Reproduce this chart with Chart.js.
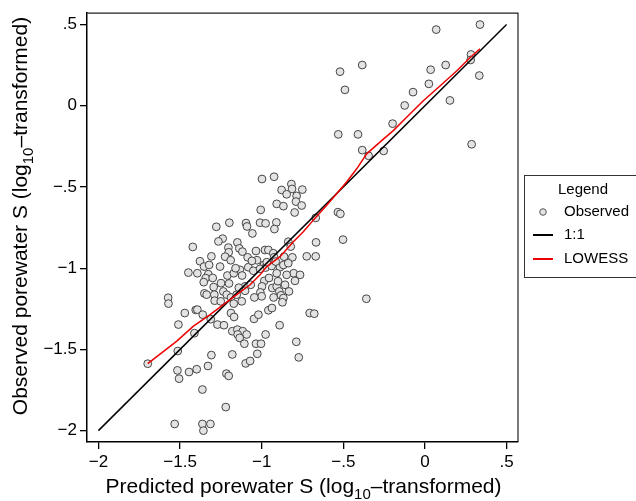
<!DOCTYPE html>
<html>
<head>
<meta charset="utf-8">
<script src="https://cdn.jsdelivr.net/npm/chart.js@4.4.0/dist/chart.umd.min.js"></script>
<style>
  html,body{margin:0;padding:0;background:#fff;}
  #wrap{width:636px;height:501px;position:relative;}
</style>
</head>
<body>
<div id="wrap"><canvas id="chart" width="636" height="501"></canvas></div>
<script>
/* ======== DATA ======== */
const tickVals   = [-2, -1.5, -1, -0.5, 0, 0.5];
const tickLabels = ['\u22122', '\u22121.5', '\u22121', '\u2212.5', '0', '.5'];

// observed vs predicted porewater S (log10)
const obsX = [
  0.337, 0.069, 0.282, 0.280, 0.127, 0.035, 0.333, 0.024, -0.073, 0.153, -0.124, -0.198,
  -0.384, -0.520, -0.490, -0.531, -0.410, -0.384, -0.345, -0.253, 0.286,
  -0.533, -0.518, -0.669, -0.502, -0.667, -0.724, -0.669, -0.359, -0.706, -0.678, -0.788, -0.773,
  -0.998, -0.924, -0.818, -0.878, -0.814, -0.751, -0.847, -0.786, -0.790, -0.755, -0.908, -0.867,
  -0.798, -1.006, -1.010, -0.976, -0.910, -0.922, -1.096, -1.090, -1.057, -1.198, -1.278, -1.239, -1.265,
  -1.149, -1.204, -1.137, -1.118, -1.202, -1.086, -1.035, -0.980, -0.959, -0.929, -0.837, -0.822,
  -0.863, -0.812, -1.422, -1.308, -1.378, -1.353, -1.224, -1.190, -1.029, -0.924,
  -1.449, -1.394, -1.327, -1.343, -1.355, -1.210, -1.171, -1.133, -1.120, -1.082, -1.051, -0.986,
  -0.976, -0.939, -0.888, -0.908, -0.867, -0.837, -0.804, -0.765, -0.796, -1.322, -1.010, -0.969,
  -0.914, -0.847,
  -1.351, -1.337, -1.294, -1.290, -1.249, -1.235, -1.200, -1.214, -1.188, -1.153, -1.102, -1.102,
  -1.067, -0.984, -0.998, -1.008, -1.000, -0.935, -0.908, -0.892, -0.857, -0.833, -0.882, -0.867,
  -0.927, -0.873, -1.573, -1.571, -1.288, -1.251, -1.171, -1.122,
  -1.471, -1.404, -1.394, -1.361, -1.312, -1.188, -1.169, -1.047, -1.020, -0.959, -0.937, -1.510,
  -1.412, -1.271, -1.231, -1.180, -1.149, -1.116, -1.147, -1.092, -1.135, -0.976, -0.890,
  -1.106, -1.035, -1.004, -1.027, -1.514, -1.308, -1.180, -1.098, -1.071, -1.698, -1.329,
  -1.516, -1.506, -1.445, -1.398, -1.216, -1.202, -1.363, -1.220, -1.533, -1.363, -1.314, -1.357,
  -1.160, -1.060, -0.955, -1.255, -1.140, -0.900, -1.300, -1.045
];
const obsY = [
  0.500, 0.469, 0.316, 0.282, 0.251, 0.222, 0.186, 0.135, 0.084, 0.033, 0.002, -0.110,
  0.251, 0.210, 0.098, -0.176, -0.176, -0.273, -0.308, -0.278, -0.237,
  -0.655, -0.665, -0.690, -0.824, -0.841, -0.927, -0.927, -1.188, -1.276, -1.280, -1.453, -1.549,
  -0.451, -0.437, -0.482, -0.518, -0.512, -0.516, -0.545, -0.555, -0.590, -0.614, -0.604, -0.618,
  -0.657, -0.641, -0.720, -0.724, -0.718, -0.759, -0.722, -0.743, -0.786, -0.720, -0.745, -0.818, -0.835,
  -0.841, -0.873, -0.878, -0.898, -0.902, -0.933, -0.894, -0.888, -0.888, -0.908, -0.837, -0.867,
  -0.929, -0.933, -0.869, -0.927, -0.957, -0.990, -0.929, -0.951, -0.951, -0.933,
  -1.027, -1.031, -1.037, -1.061, -1.086, -1.045, -1.031, -1.010, -1.045, -0.994, -1.016, -0.980,
  -0.996, -0.986, -0.994, -1.031, -0.980, -0.969, -1.031, -1.041, -1.078, -0.980, -1.004, -0.963,
  -0.959, -1.041,
  -1.155, -1.163, -1.116, -1.163, -1.092, -1.143, -1.094, -1.163, -1.180, -1.163, -1.112, -1.139,
  -1.102, -1.078, -1.112, -1.149, -1.173, -1.122, -1.112, -1.143, -1.102, -1.143, -1.167, -1.184,
  -1.180, -1.210, -1.182, -1.218, -1.200, -1.204, -1.218, -1.204,
  -1.276, -1.257, -1.255, -1.286, -1.314, -1.276, -1.300, -1.312, -1.286, -1.259, -1.245, -1.347,
  -1.400, -1.347, -1.351, -1.388, -1.378, -1.388, -1.408, -1.408, -1.429, -1.408, -1.351,
  -1.465, -1.465, -1.465, -1.527, -1.510, -1.535, -1.531, -1.586, -1.571, -1.588, -1.602,
  -1.629, -1.680, -1.639, -1.622, -1.649, -1.663, -1.747, -1.855, -1.959, -1.959, -1.959, -2.000,
  -1.000, -0.955, -1.060, -0.990, -1.120, -1.080, -1.060, -1.180
];

// LOWESS smooth
const lowessX = [-1.698, -1.520, -1.418, -1.316, -1.235, -1.153, -1.071, -1.010, -0.969, -0.888,
  -0.806, -0.745, -0.684, -0.602, -0.541, -0.480, -0.418, -0.357, -0.276, -0.194, -0.112,
  -0.010, 0.092, 0.194, 0.276, 0.337];
const lowessY = [-1.588, -1.449, -1.357, -1.286, -1.224, -1.163, -1.102, -1.041, -0.990, -0.929,
  -0.837, -0.776, -0.704, -0.612, -0.541, -0.469, -0.388, -0.296, -0.224, -0.153, -0.071,
  0.031, 0.122, 0.214, 0.296, 0.351];

// 1:1 reference line
const lineX = [-2, 0.5];
const lineY = [-2, 0.5];

const FONT = '"Liberation Sans", Arial, Helvetica, sans-serif';
const RED = '#ee0000';
const toXY = (xs, ys) => xs.map((x, i) => ({ x, y: ys[i] }));

/* ======== AXIS TITLES with subscript ======== */
function drawParts(ctx, parts, size){
  let w = 0;
  parts.forEach(p => {
    ctx.font = (p.sub ? Math.round(size * 0.72) : size) + 'px ' + FONT;
    w += ctx.measureText(p.t).width;
  });
  let x = -w / 2;
  parts.forEach(p => {
    ctx.font = (p.sub ? Math.round(size * 0.72) : size) + 'px ' + FONT;
    ctx.fillText(p.t, x, p.sub ? size * 0.28 : 0);
    x += ctx.measureText(p.t).width;
  });
}

const titlePlugin = {
  id: 'titles',
  afterDraw(chart){
    const { ctx, chartArea: a } = chart;
    ctx.save();
    ctx.fillStyle = '#000';
    ctx.textBaseline = 'alphabetic';
    ctx.textAlign = 'left';

    // top / right frame
    ctx.strokeStyle = '#222';
    ctx.lineWidth = 1.2;
    ctx.beginPath();
    ctx.moveTo(a.left, a.top); ctx.lineTo(a.right, a.top); ctx.lineTo(a.right, a.bottom);
    ctx.stroke();

    ctx.translate((a.left + a.right) / 2 + 1, 493);
    drawParts(ctx, [{ t: 'Predicted porewater S (log' }, { t: '10', sub: true }, { t: '\u2013transformed)' }], 21);
    ctx.restore();

    ctx.save();
    ctx.fillStyle = '#000';
    ctx.translate(27, 216);
    ctx.rotate(-Math.PI / 2);
    drawParts(ctx, [{ t: 'Observed porewater S (log' }, { t: '10', sub: true }, { t: '\u2013transformed)' }], 21);
    ctx.restore();

    // legend box
    ctx.save();
    ctx.strokeStyle = '#333';
    ctx.lineWidth = 1;
    ctx.strokeRect(524.5, 175.5, 130, 102);
    ctx.fillStyle = '#000';
    ctx.font = '15px ' + FONT;
    ctx.textBaseline = 'middle';
    ctx.textAlign = 'center';
    ctx.fillText('Legend', 583, 190);
    ctx.textAlign = 'left';
    ctx.fillText('Observed', 564, 212);
    ctx.fillText('1:1', 564, 235);
    ctx.fillText('LOWESS', 564, 259);
    ctx.beginPath();
    ctx.arc(543, 212, 3.3, 0, Math.PI * 2);
    ctx.fillStyle = '#e3e3e3'; ctx.fill();
    ctx.strokeStyle = '#555'; ctx.stroke();
    ctx.lineWidth = 2;
    ctx.strokeStyle = '#000';
    ctx.beginPath(); ctx.moveTo(533, 235); ctx.lineTo(553, 235); ctx.stroke();
    ctx.strokeStyle = RED;
    ctx.beginPath(); ctx.moveTo(533, 259); ctx.lineTo(553, 259); ctx.stroke();
    ctx.restore();
  }
};

/* ======== CHART ======== */
function axis(fitKey, fitVal){
  return {
    type: 'linear',
    min: -2.07, max: 0.57,
    afterBuildTicks: s => { s.ticks = tickVals.map(v => ({ value: v })); },
    ticks: {
      callback: (v, i) => tickLabels[i],
      font: { size: 17, family: FONT },
      color: '#000',
      padding: 3,
      maxRotation: 0,
      autoSkip: false
    },
    grid: { drawOnChartArea: false, drawTicks: true, tickLength: 7, color: '#000', lineWidth: 1.3 },
    border: { display: true, color: '#000', width: 1.5 },
    afterFit: s => { s[fitKey] = fitVal; }
  };
}

new Chart(document.getElementById('chart'), {
  type: 'scatter',
  data: {
    datasets: [
      { label: 'LOWESS', data: toXY(lowessX, lowessY), showLine: true, borderColor: RED,
        borderWidth: 1.5, pointRadius: 0, tension: 0, fill: false },
      { label: '1:1', data: toXY(lineX, lineY), showLine: true, borderColor: '#000',
        borderWidth: 1.5, pointRadius: 0, fill: false },
      { label: 'Observed', data: toXY(obsX, obsY), pointRadius: 3.9, pointBorderWidth: 1,
        backgroundColor: '#e3e3e3', borderColor: '#444' }
    ]
  },
  options: {
    responsive: false,
    animation: false,
    devicePixelRatio: 1,
    layout: { padding: { top: 10, right: 118, bottom: 0, left: 0 } },
    plugins: { legend: { display: false }, tooltip: { enabled: false } },
    scales: {
      x: axis('height', 59),
      y: axis('width', 87)
    }
  },
  plugins: [titlePlugin]
});
</script>
</body>
</html>
